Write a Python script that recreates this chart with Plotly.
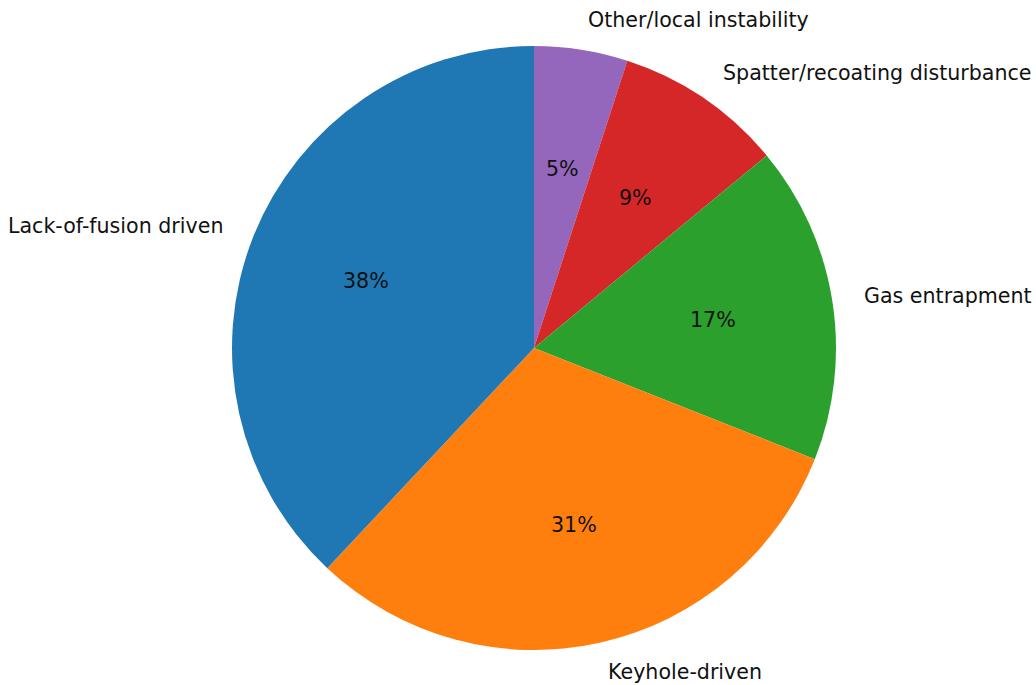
import math
import plotly.graph_objects as go

labels = ["Lack-of-fusion driven", "Keyhole-driven", "Gas entrapment",
          "Spatter/recoating disturbance", "Other/local instability"]
values = [38, 31, 17, 9, 5]
colors = ["#1f77b4", "#ff7f0e", "#2ca02c", "#d62728", "#9467bd"]

W, H = 1036, 685
cx_px, cy_px, r_px = 534, 348, 302

# matplotlib-style: first slice starts at 12 o'clock going counterclockwise.
# Equivalent in plotly: reversed order drawn clockwise from 12 o'clock.
fig = go.Figure(go.Pie(
    labels=labels[::-1], values=values[::-1], sort=False, direction="clockwise",
    rotation=0, marker=dict(colors=colors[::-1], line=dict(width=0)),
    textinfo="none", showlegend=False,
    domain=dict(x=[(cx_px - r_px) / W, (cx_px + r_px) / W],
                y=[(H - cy_px - r_px) / H, (H - cy_px + r_px) / H]),
))

total = sum(values)
start = 90.0
annotations = []
font = dict(family="DejaVu Sans", size=20.6, color="#111111")
for lab, v in zip(labels, values):
    span = 360.0 * v / total
    mid = math.radians(start + span / 2)
    start += span
    c, s = math.cos(mid), math.sin(mid)
    lx = cx_px + 1.1 * r_px * c
    ly = cy_px - 1.1 * r_px * s
    annotations.append(dict(
        x=lx / W, y=1 - ly / H, xref="paper", yref="paper", text=lab,
        showarrow=False, xanchor="left" if c > 0 else "right", yanchor="middle",
        font=font))
    px = cx_px + 0.6 * r_px * c
    py = cy_px - 0.6 * r_px * s
    annotations.append(dict(
        x=px / W, y=1 - py / H, xref="paper", yref="paper",
        text=f"{100 * v / total:.0f}%", showarrow=False,
        xanchor="center", yanchor="middle", font=font))

fig.update_layout(
    width=W, height=H, margin=dict(l=0, r=0, t=0, b=0),
    paper_bgcolor="white", plot_bgcolor="white", annotations=annotations,
)
fig.write_html("out.html")
